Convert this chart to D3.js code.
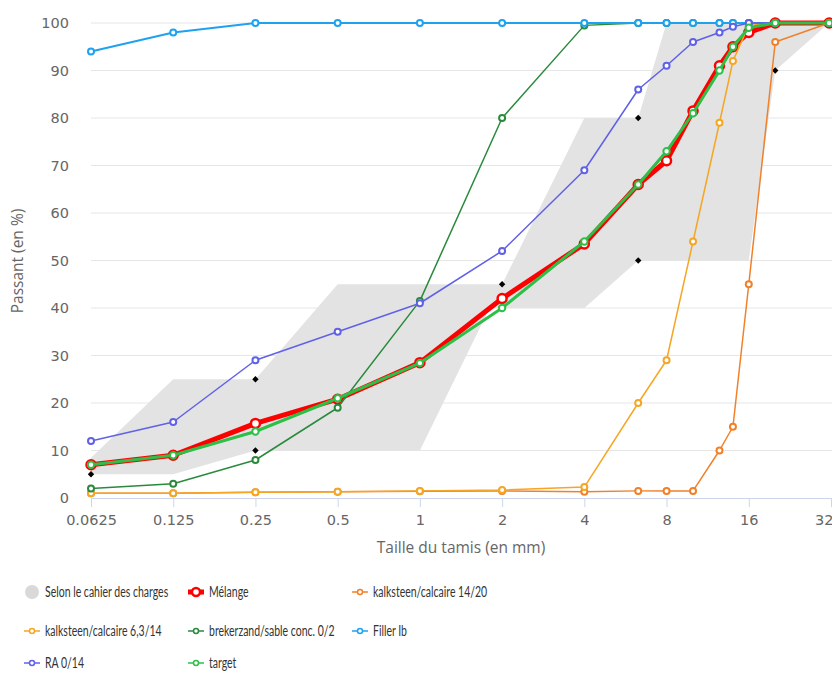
<!DOCTYPE html>
<html>
<head>
<meta charset="utf-8">
<script src="https://cdn.jsdelivr.net/npm/d3@7"></script>
<style>
  body { margin: 0; background: #fff; }
  svg { display: block; }
  .tick text { font-family: "DejaVu Sans", sans-serif; font-size: 14.5px; fill: #666; }
  .title { font-family: "Open Sans", sans-serif; font-size: 15.5px; fill: #666; }
  .legend text { font-family: Lato, sans-serif; font-size: 15px; fill: #333; }
</style>
</head>
<body>
<svg id="chart" width="832" height="673"></svg>
<script>
// sieve sizes (mm)
const sieves = [0.0625, 0.125, 0.25, 0.5, 1, 2, 4, 6.3, 8, 10, 12.5, 14, 16, 20, 31.5];
const xTicks = [0.0625, 0.125, 0.25, 0.5, 1, 2, 4, 8, 16, 32];
const yTicks = [0, 10, 20, 30, 40, 50, 60, 70, 80, 90, 100];

// specification envelope (gray band)
const bandSieves = [0.0625, 0.125, 0.25, 0.5, 1, 1.8, 2, 4, 6.3, 8, 16, 20, 31.5];
const bandLow  = [5, 5, 10, 10, 10, 40, 40, 40, 50, 50, 50, 90, 100];
const bandHigh = [8.5, 25, 25, 45, 45, 45, 45, 80, 80, 100, 100, 100, 100];

// spec points (black diamonds)
const specSieves = [0.0625, 0.25, 0.25, 2, 6.3, 6.3, 20];
const specValues = [5, 25, 10, 45, 80, 50, 90];

// passing percentages per material
const melange     = [7, 9, 15.7, 20.8, 28.5, 42, 53.5, 66, 71, 81.5, 91, 95, 98, 100, 100];
const calc1420    = [1, 1, 1.2, 1.3, 1.4, 1.5, 1.3, 1.5, 1.5, 1.5, 10, 15, 45, 96, 100];
const calc6314    = [1, 1, 1.2, 1.3, 1.5, 1.7, 2.3, 20, 29, 54, 79, 92, 99.5, 100, 100];
const brekerzand  = [2, 3, 8, 19, 41.5, 80, 99.5, 100, 100, 100, 100, 100, 100, 100, 100];
const filler      = [94, 98, 100, 100, 100, 100, 100, 100, 100, 100, 100, 100, 100, 100, 100];
const ra014       = [12, 16, 29, 35, 41, 52, 69, 86, 91, 96, 98, 99.2, 100, 100, 100];
const target      = [7, 9, 14, 21, 28.4, 40, 54, 66, 73, 81, 90, 95, 99, 100, 100];

const series = [
    { name: "Mélange", values: melange, color: "#ff0000", width: 5, r: 4.5, sw: 2.5 },
    { name: "kalksteen/calcaire 14/20", values: calc1420, color: "#f0812a", width: 1.5, r: 3, sw: 2 },
    { name: "kalksteen/calcaire 6,3/14", values: calc6314, color: "#f5a623", width: 1.5, r: 3, sw: 2 },
    { name: "brekerzand/sable conc. 0/2", values: brekerzand, color: "#2a8a3c", width: 1.5, r: 3, sw: 2 },
    { name: "Filler Ib", values: filler, color: "#1ea2f0", width: 2, r: 3, sw: 2 },
    { name: "RA 0/14", values: ra014, color: "#6060e8", width: 1.5, r: 3, sw: 2 },
    { name: "target", values: target, color: "#2dbf48", width: 3, r: 3.2, sw: 2 }
];

const svg = d3.select("#chart");

const x = d3.scaleLog().base(2).domain([0.0625, 32]).range([91, 831]);
const y = d3.scaleLinear().domain([0, 100]).range([498, 23]);

// grid
svg.append("g")
    .selectAll("line")
    .data(yTicks.slice(1))
    .join("line")
    .attr("x1", 91).attr("x2", 832)
    .attr("y1", d => y(d)).attr("y2", d => y(d))
    .attr("stroke", "#e6e6e6")
    .attr("stroke-width", 1);

// y axis labels
const yAxis = svg.append("g")
    .attr("transform", "translate(91,0)")
    .call(d3.axisLeft(y).tickValues(yTicks).tickSize(0).tickPadding(22));
yAxis.select(".domain").remove();

// x axis
const xAxis = svg.append("g")
    .attr("transform", "translate(0,498)")
    .call(d3.axisBottom(x).tickValues(xTicks).tickFormat(d => String(d)).tickSize(9).tickPadding(8));
xAxis.select(".domain").attr("d", "M91,0.5H832").attr("stroke", "#ccd6eb");
xAxis.selectAll(".tick line").attr("stroke", "#ccd6eb");
// last label is pushed inside the chart edge
xAxis.selectAll(".tick text").filter(d => d === 32).attr("text-anchor", "end").attr("x", 2);

// axis titles
svg.append("text")
    .attr("class", "title")
    .attr("x", 461).attr("y", 553)
    .attr("text-anchor", "middle")
    .text("Taille du tamis (en mm)");

svg.append("text")
    .attr("class", "title")
    .attr("transform", "translate(23,261) rotate(-90)")
    .attr("text-anchor", "middle")
    .text("Passant (en %)");

// spec band
const band = bandSieves.map((s, i) => ({ s, lo: bandLow[i], hi: bandHigh[i] }));
svg.append("path")
    .datum(band)
    .attr("fill", "#e3e3e3")
    .attr("d", d3.area().x(d => x(d.s)).y0(d => y(d.lo)).y1(d => y(d.hi)));

// spec diamonds
svg.append("g")
    .selectAll("path")
    .data(specSieves.map((s, i) => ({ s, v: specValues[i] })))
    .join("path")
    .attr("transform", d => `translate(${x(d.s)},${y(d.v)})`)
    .attr("d", d3.symbol(d3.symbolDiamond2, 26))
    .attr("fill", "#000");

// series lines + markers
const line = d3.line().x(d => x(d.s)).y(d => y(d.v));
series.forEach(sr => {
    const pts = sieves.map((s, i) => ({ s, v: sr.values[i] }));
    const g = svg.append("g");
    g.append("path")
        .datum(pts)
        .attr("fill", "none")
        .attr("stroke", sr.color)
        .attr("stroke-width", sr.width)
        .attr("stroke-linejoin", "round")
        .attr("d", line);
    g.selectAll("circle")
        .data(pts)
        .join("circle")
        .attr("cx", d => x(d.s))
        .attr("cy", d => y(d.v))
        .attr("r", sr.r)
        .attr("fill", "#fff")
        .attr("stroke", sr.color)
        .attr("stroke-width", sr.sw);
});

// legend
const legendItems = [{ name: "Selon le cahier des charges", band: true }].concat(series);
const colX = [32, 196, 360];
const rowY = [592, 631, 663];
const legend = svg.append("g").attr("class", "legend");
legendItems.forEach((it, i) => {
    const cx = colX[i % 3], cy = rowY[Math.floor(i / 3)];
    const g = legend.append("g");
    if (it.band) {
        g.append("circle").attr("cx", cx).attr("cy", cy).attr("r", 7).attr("fill", "#d9d9d9");
    } else {
        g.append("line")
            .attr("x1", cx - 8).attr("x2", cx + 8)
            .attr("y1", cy).attr("y2", cy)
            .attr("stroke", it.color)
            .attr("stroke-width", it.width > 3 ? 5 : 1.5);
        g.append("circle")
            .attr("cx", cx).attr("cy", cy)
            .attr("r", it.width > 3 ? 4 : 2.5)
            .attr("fill", "#fff")
            .attr("stroke", it.color)
            .attr("stroke-width", it.width > 3 ? 2.5 : 1.5);
    }
    // the legend font is rendered narrow in the original
    g.append("g")
        .attr("transform", `translate(${cx + 13},${cy + 5}) scale(0.7,1)`)
        .append("text")
        .text(it.name);
});
</script>
</body>
</html>
